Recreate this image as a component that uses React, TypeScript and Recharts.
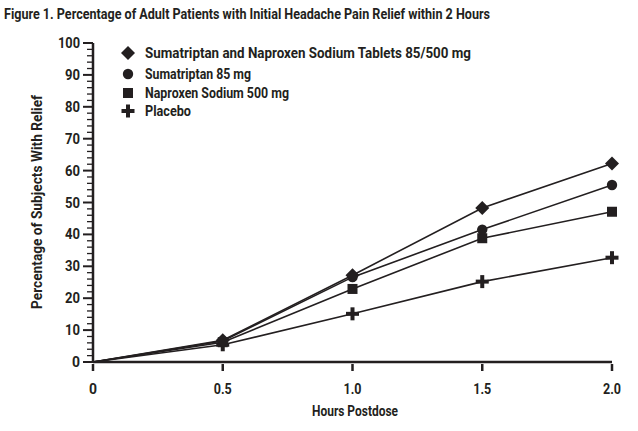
import React from 'react';
import { LineChart, Line, XAxis, YAxis } from 'recharts';

const hours = [0, 0.5, 1.0, 1.5, 2.0];
const combo = [0, 6.8, 27.2, 48.3, 62.2];
const suma = [0, 6.6, 26.6, 41.5, 55.5];
const napro = [0, 6.2, 22.9, 38.8, 47.1];
const placebo = [0, 5.4, 15.1, 25.2, 32.7];
const seriesNames = [
  'Sumatriptan and Naproxen Sodium Tablets 85/500 mg',
  'Sumatriptan 85 mg',
  'Naproxen Sodium 500 mg',
  'Placebo',
];
const xTicks = [0, 0.5, 1.0, 1.5, 2.0];
const yTicks = Array.from({ length: 51 }, (_, i) => i * 2);

const data = hours.map((h, i) => ({
  h,
  combo: combo[i],
  suma: suma[i],
  napro: napro[i],
  placebo: placebo[i],
}));

const INK = '#231f20';
const FONT = 'Roboto, "Liberation Sans", sans-serif';

type Shape = 'diamond' | 'circle' | 'square' | 'plus';

const Marker = ({ cx, cy, shape }: { cx: number; cy: number; shape: Shape }) => {
  if (shape === 'diamond') {
    const r = 7;
    return <polygon points={`${cx},${cy - r} ${cx + r},${cy} ${cx},${cy + r} ${cx - r},${cy}`} fill={INK} />;
  }
  if (shape === 'circle') return <circle cx={cx} cy={cy} r={5.2} fill={INK} />;
  if (shape === 'square') return <rect x={cx - 5} y={cy - 5} width={10} height={10} fill={INK} />;
  return (
    <g fill={INK}>
      <rect x={cx - 6.5} y={cy - 2} width={13} height={4} />
      <rect x={cx - 2} y={cy - 6.5} width={4} height={13} />
    </g>
  );
};

const makeDot = (shape: Shape) => (props: any) => {
  const { cx, cy, payload, index } = props;
  if (!payload || payload.h === 0) return <g key={`d-${shape}-${index}`} />;
  return (
    <g key={`d-${shape}-${index}`}>
      <Marker cx={cx} cy={cy} shape={shape} />
    </g>
  );
};

const numWidth = (s: string) => s.replace('.', '').length * 7 + (s.includes('.') ? 3 : 0);

const YTick = (props: any) => {
  const { x, y, payload } = props;
  const v = payload.value;
  const major = v % 10 === 0;
  const s = String(v);
  return (
    <g>
      <line x1={x - (major ? 10 : 6)} x2={x} y1={y} y2={y} stroke={INK} strokeWidth={major ? 2 : 1.3} />
      {major && (
        <text
          x={x - 13}
          y={y}
          dy={5}
          textAnchor="end"
          fontFamily={FONT}
          fontWeight="bold"
          fontSize={14}
          fill={INK}
          textLength={numWidth(s) + 1}
          lengthAdjust="spacingAndGlyphs"
        >
          {s}
        </text>
      )}
    </g>
  );
};

const XTick = (props: any) => {
  const { x, y, payload } = props;
  const v = payload.value;
  const s = v === 0 ? '0' : v.toFixed(1);
  return (
    <g>
      <line x1={x} x2={x} y1={y} y2={y + 7} stroke={INK} strokeWidth={2.5} />
      <text
        x={x}
        y={y + 30}
        textAnchor="middle"
        fontFamily={FONT}
        fontWeight="bold"
        fontSize={14}
        fill={INK}
        textLength={numWidth(s) + 1}
        lengthAdjust="spacingAndGlyphs"
      >
        {s}
      </text>
    </g>
  );
};

const shapes: Shape[] = ['diamond', 'circle', 'square', 'plus'];
const legendRows = [53, 74, 93, 111];
const legendWidths = [326, 106, 144, 46];

export default function App() {
  return (
    <div style={{ position: 'absolute', left: 0, top: 0, width: 638, height: 431, background: '#fff' }}>
      <LineChart width={638} height={431} data={data} margin={{ top: 43, right: 26, bottom: 39, left: 0 }}>
        <text
          x={4}
          y={19}
          fontFamily={FONT}
          fontWeight="bold"
          fontSize={14.5}
          fill={INK}
          textLength={486}
          lengthAdjust="spacingAndGlyphs"
        >
          Figure 1. Percentage of Adult Patients with Initial Headache Pain Relief within 2 Hours
        </text>
        <text
          x={37}
          y={202}
          dy={5}
          transform="rotate(-90 37 202)"
          textAnchor="middle"
          fontFamily={FONT}
          fontWeight="bold"
          fontSize={14}
          fill={INK}
          textLength={214}
          lengthAdjust="spacingAndGlyphs"
        >
          Percentage of Subjects With Relief
        </text>
        <text
          x={355}
          y={416}
          textAnchor="middle"
          fontFamily={FONT}
          fontWeight="bold"
          fontSize={14}
          fill={INK}
          textLength={86}
          lengthAdjust="spacingAndGlyphs"
        >
          Hours Postdose
        </text>
        {seriesNames.map((n, i) => (
          <g key={n}>
            <Marker cx={128} cy={legendRows[i]} shape={shapes[i]} />
            <text
              x={145}
              y={legendRows[i]}
              dy={5}
              fontFamily={FONT}
              fontWeight="bold"
              fontSize={15}
              fill={INK}
              textLength={legendWidths[i]}
              lengthAdjust="spacingAndGlyphs"
            >
              {n}
            </text>
          </g>
        ))}
        <XAxis
          dataKey="h"
          type="number"
          domain={[0, 2]}
          ticks={xTicks}
          height={30}
          axisLine={{ stroke: INK, strokeWidth: 2.5 }}
          tickLine={false}
          tickSize={0}
          tick={<XTick />}
          interval={0}
        />
        <YAxis
          type="number"
          domain={[0, 100]}
          ticks={yTicks}
          width={93}
          axisLine={{ stroke: INK, strokeWidth: 2.5 }}
          tickLine={false}
          tickSize={0}
          tickMargin={0}
          tick={<YTick />}
          interval={0}
        />
        <Line dataKey="placebo" stroke={INK} strokeWidth={1.6} dot={makeDot('plus')} isAnimationActive={false} />
        <Line dataKey="napro" stroke={INK} strokeWidth={1.6} dot={makeDot('square')} isAnimationActive={false} />
        <Line dataKey="suma" stroke={INK} strokeWidth={1.6} dot={makeDot('circle')} isAnimationActive={false} />
        <Line dataKey="combo" stroke={INK} strokeWidth={1.6} dot={makeDot('diamond')} isAnimationActive={false} />
      </LineChart>
    </div>
  );
}
